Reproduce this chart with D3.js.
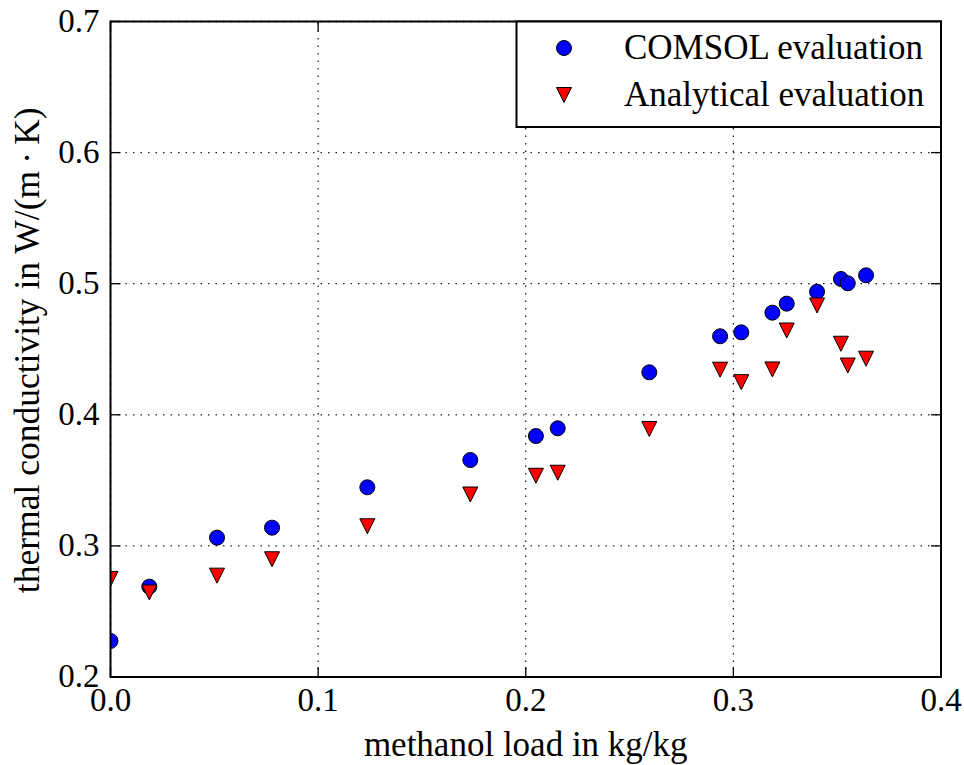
<!DOCTYPE html>
<html>
<head>
<meta charset="utf-8">
<script src="https://cdn.jsdelivr.net/npm/d3@7"></script>
<style>
  html, body { margin: 0; padding: 0; background: #fff; }
  svg { display: block; }
</style>
</head>
<body>
<svg id="chart" width="964" height="765"></svg>
<script>
// Methanol load (kg/kg) and thermal conductivity (W/(m·K))
const comsolLoad = [0.0, 0.0187, 0.0513, 0.0778, 0.1237, 0.1733, 0.2049, 0.2154, 0.2595, 0.2936, 0.3038, 0.3188, 0.3257, 0.3403, 0.3518, 0.3551, 0.3639];
const comsolK    = [0.2275, 0.2689, 0.3063, 0.3139, 0.3447, 0.3655, 0.3838, 0.3897, 0.4324, 0.4599, 0.4629, 0.4779, 0.4848, 0.4939, 0.5036, 0.5003, 0.5064];

const analyticLoad = [0.0, 0.0187, 0.0513, 0.0778, 0.1237, 0.1733, 0.2049, 0.2154, 0.2595, 0.2936, 0.3038, 0.3188, 0.3257, 0.3403, 0.3518, 0.3551, 0.3639];
const analyticK    = [0.2748, 0.2645, 0.2773, 0.2898, 0.3150, 0.3392, 0.3535, 0.3558, 0.3892, 0.4344, 0.4249, 0.4346, 0.4643, 0.4834, 0.4542, 0.4376, 0.4428];

const xTicks = [0.0, 0.1, 0.2, 0.3, 0.4];
const yTicks = [0.2, 0.3, 0.4, 0.5, 0.6, 0.7];
const seriesNames = ["COMSOL evaluation", "Analytical evaluation"];
const xTitle = "methanol load in kg/kg";
const yTitle = "thermal conductivity in W/(m\u2009\u00b7\u2009K)";

const FONT = "'Liberation Serif', 'DejaVu Serif', 'Times New Roman', serif";

const svg = d3.select("#chart");
const L = 110.5, R = 941, T = 21.5, B = 677;

const x = d3.scaleLinear().domain([0, 0.4]).range([L, R]);
const y = d3.scaleLinear().domain([0.2, 0.7]).range([B, T]);

// dotted grid
const grid = svg.append("g").attr("stroke", "#222").attr("stroke-width", 1.3)
  .attr("stroke-dasharray", "1.5,6");
grid.selectAll("line.gx").data(xTicks).join("line")
  .attr("x1", d => x(d)).attr("x2", d => x(d)).attr("y1", B).attr("y2", T);
grid.selectAll("line.gy").data(yTicks).join("line")
  .attr("y1", d => y(d)).attr("y2", d => y(d)).attr("x1", L).attr("x2", R);

// inward ticks on all four sides
const tickLen = 10;
const ticks = svg.append("g").attr("stroke", "#000").attr("stroke-width", 1.3);
xTicks.forEach(d => {
  ticks.append("line").attr("x1", x(d)).attr("x2", x(d)).attr("y1", B).attr("y2", B - tickLen);
  ticks.append("line").attr("x1", x(d)).attr("x2", x(d)).attr("y1", T).attr("y2", T + tickLen);
});
yTicks.forEach(d => {
  ticks.append("line").attr("y1", y(d)).attr("y2", y(d)).attr("x1", L).attr("x2", L + tickLen);
  ticks.append("line").attr("y1", y(d)).attr("y2", y(d)).attr("x1", R).attr("x2", R - tickLen);
});

// tick labels
const fmt = d3.format(".1f");
svg.append("g").selectAll("text").data(xTicks).join("text")
  .attr("x", d => x(d)).attr("y", B + 34)
  .attr("text-anchor", "middle").attr("font-family", FONT).attr("font-size", 33).text(d => fmt(d));
svg.append("g").selectAll("text").data(yTicks).join("text")
  .attr("x", L - 11).attr("y", d => y(d) + 10)
  .attr("text-anchor", "end").attr("font-family", FONT).attr("font-size", 33).text(d => fmt(d));

// axis titles
svg.append("text").attr("x", (L + R) / 2).attr("y", 756)
  .attr("text-anchor", "middle").attr("font-family", FONT).attr("font-size", 35).text(xTitle);
svg.append("text").attr("transform", `translate(39,${(T + B) / 2 + 1}) rotate(-90)`)
  .attr("text-anchor", "middle").attr("font-family", FONT).attr("font-size", 35.5).text(yTitle);

// markers
const ms = 15;
const triPath = (cx, cy, s) => {
  const h = s / 2;
  return d3.line()([[cx - h, cy - h], [cx + h, cy - h], [cx, cy + h]]) + "Z";
};
svg.append("clipPath").attr("id", "plotclip")
  .append("rect").attr("x", L).attr("y", T).attr("width", R - L).attr("height", B - T);

const marks = svg.append("g").attr("clip-path", "url(#plotclip)");
marks.selectAll("circle").data(d3.range(comsolLoad.length)).join("circle")
  .attr("cx", i => x(comsolLoad[i])).attr("cy", i => y(comsolK[i])).attr("r", ms / 2)
  .attr("fill", "#0000ff").attr("stroke", "#000").attr("stroke-width", 1);
marks.selectAll("path").data(d3.range(analyticLoad.length)).join("path")
  .attr("d", i => triPath(x(analyticLoad[i]), y(analyticK[i]), ms))
  .attr("fill", "#ff0000").attr("stroke", "#000").attr("stroke-width", 1);

// axes frame
svg.append("rect").attr("x", L).attr("y", T).attr("width", R - L).attr("height", B - T)
  .attr("fill", "none").attr("stroke", "#000").attr("stroke-width", 2);

// legend
const lg = svg.append("g");
lg.append("rect").attr("x", 516.5).attr("y", T).attr("width", R - 516.5).attr("height", 127 - T)
  .attr("fill", "#fff").attr("stroke", "#000").attr("stroke-width", 2);
lg.append("circle").attr("cx", 564).attr("cy", 48).attr("r", ms / 2)
  .attr("fill", "#0000ff").attr("stroke", "#000").attr("stroke-width", 1);
lg.append("path").attr("d", triPath(564, 95, ms))
  .attr("fill", "#ff0000").attr("stroke", "#000").attr("stroke-width", 1);
lg.selectAll("text").data(seriesNames).join("text")
  .attr("x", 624).attr("y", (d, i) => [59, 106][i])
  .attr("font-family", FONT).attr("font-size", 35).text(d => d);
</script>
</body>
</html>
